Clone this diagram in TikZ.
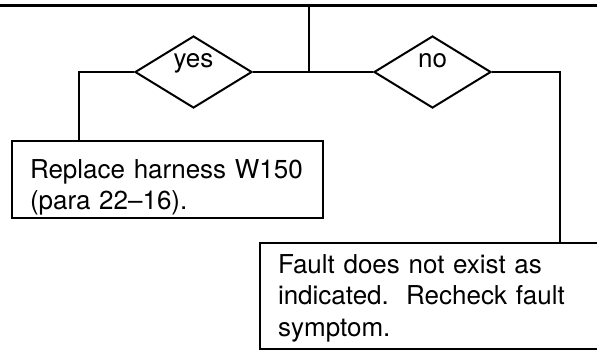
\documentclass[tikz,border=0pt]{standalone}
\usepackage{fontspec}
\setmainfont{TeX Gyre Heros}
\usepackage{tikz}
\usetikzlibrary{positioning, shapes.geometric}
\tikzset{
  decide/.style = {diamond, draw, line width=2pt, inner sep=0pt,
                   minimum width=117pt, minimum height=72pt,
                   text height=0pt, text depth=9pt},
  action/.style = {rectangle, draw, line width=2pt, anchor=north west,
                   inner xsep=18pt, inner ysep=0pt, align=left},
  bus/.style    = {line width=3pt},
  wire/.style   = {line width=2pt},
}

\begin{document}
\begin{tikzpicture}[x=1pt, y=-1pt, node distance=120pt,
    font=\fontsize{26pt}{31.5pt}\selectfont]
  \useasboundingbox (0,0) rectangle (597,349);

  % bus along the top and the tee into the decision row
  \coordinate (busl) at (0,5);
  \coordinate (busr) at (597,5);
  \coordinate (tee) at (309,5);
  \coordinate (split) at (309,72);

  % decisions
  \node[decide] (yes) at (193.5,72) {yes};
  \node[decide, right=of yes] (no) {no};

  % drop points to the boxes
  \coordinate (ydrop) at (79,72);
  \coordinate (ndrop) at (559.5,72);

  % actions
  \node[action, text width=275pt, text height=37pt, text depth=40pt]
       (replace) at (11,140) {Replace harness W150\\(para 22--16).};
  \node[action, text width=330pt, text height=30pt, text depth=76pt]
       (fault) at (259,242)
       {Fault does not exist as\\indicated.\ \ Recheck fault\\symptom.};

  \draw[bus] (busl) -- (busr);
  \draw[wire] (tee) -- (split);
  \draw[wire] (yes.east) -- (no.west);
  \draw[wire] (yes.west) -- (ydrop) -- (ydrop |- replace.north);
  \draw[wire] (no.east) -- (ndrop) -- (ndrop |- fault.north);

\end{tikzpicture}
\end{document}
